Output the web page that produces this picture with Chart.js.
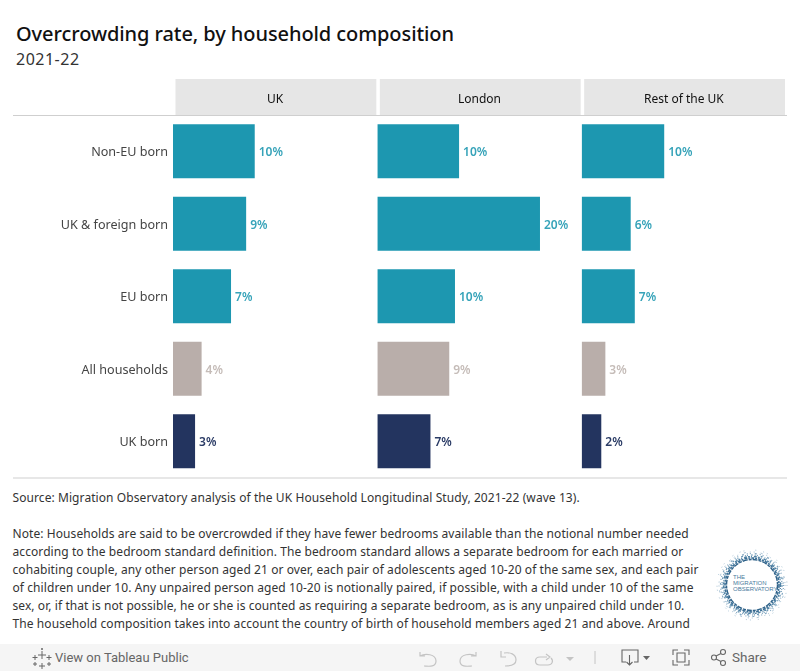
<!DOCTYPE html>
<html>
<head>
<meta charset="utf-8">
<title>Overcrowding rate, by household composition</title>
<script src="https://cdn.jsdelivr.net/npm/chart.js@4"></script>
<style>
    html, body { margin: 0; padding: 0; background: #fff; }
    body { position: relative; width: 800px; height: 671px; overflow: hidden; font-family: "Noto Sans", sans-serif; }
    canvas { position: absolute; left: 0; top: 0; }
    .title { position: absolute; left: 16px; top: 20px; font-size: 20px; line-height: 28px; font-weight: 500; color: #111; white-space: nowrap; letter-spacing: -0.08px; }
    .subtitle { position: absolute; left: 16px; top: 48px; font-size: 16px; line-height: 22px; color: #333; white-space: nowrap; letter-spacing: 0.5px; }
    .notes { position: absolute; left: 12.5px; top: 489px; font-size: 12px; line-height: 18px; color: #333; white-space: pre; letter-spacing: 0.08px; }
    .footer { position: absolute; left: 0; top: 644px; width: 800px; height: 27px; background: #f5f5f5; font-family: Roboto, sans-serif; }
    .footer span { position: absolute; top: 0; line-height: 27px; font-size: 13px; color: #666; white-space: nowrap; }
    .footer svg { position: absolute; left: 0; top: 0; }
    .logo { position: absolute; left: 714px; top: 548px; }
</style>
</head>
<body>
<div class="title">Overcrowding rate, by household composition</div>
<div class="subtitle">2021-22</div>
<canvas id="overcrowdingChart" width="800" height="480"></canvas>
<div class="notes">Source: Migration Observatory analysis of the UK Household Longitudinal Study, 2021-22 (wave 13).

Note: Households are said to be overcrowded if they have fewer bedrooms available than the notional number needed
according to the bedroom standard definition. The bedroom standard allows a separate bedroom for each married or
cohabiting couple, any other person aged 21 or over, each pair of adolescents aged 10-20 of the same sex, and each pair
of children under 10. Any unpaired person aged 10-20 is notionally paired, if possible, with a child under 10 of the same
sex, or, if that is not possible, he or she is counted as requiring a separate bedroom, as is any unpaired child under 10.
The household composition takes into account the country of birth of household members aged 21 and above. Around</div>

<svg class="logo" width="76" height="76" viewBox="0 0 76 76">
    <g fill="none">
        <circle cx="38" cy="37" r="35" stroke="#a9c4d6" stroke-width="1" stroke-dasharray="1 7 1 3 1 11"/>
        <circle cx="38" cy="37" r="33" stroke="#9dbbd0" stroke-width="1" stroke-dasharray="1 3 1 6 2 4"/>
        <circle cx="38" cy="37" r="31.500" stroke="#82a7c1" stroke-width="1.200" stroke-dasharray="1 2 1 4 2 3"/>
        <circle cx="38" cy="37" r="30" stroke="#6b97b5" stroke-width="1.200" stroke-dasharray="2 2 1 1 1 3"/>
        <circle cx="38" cy="37" r="28.500" stroke="#4f82a5" stroke-width="1.400" stroke-dasharray="2 1 1 2 3 1"/>
        <circle cx="38" cy="37" r="27" stroke="#3a6f96" stroke-width="1.600" stroke-dasharray="3 1 2 1"/>
        <circle cx="38" cy="37" r="25.500" stroke="#2f6289" stroke-width="1.400" stroke-dasharray="5 1 3 1"/>
    </g>
    <g font-family="'Liberation Sans Narrow', 'Liberation Sans', sans-serif" font-size="6" fill="#4a7a9c">
        <text x="19" y="31">THE</text>
        <text x="19" y="37">MIGRATION</text>
        <text x="19" y="43">OBSERVATORY</text>
    </g>
</svg>

<div class="footer">
    <svg width="800" height="27" viewBox="0 0 800 27" fill="none">
        <!-- tableau mark -->
        <g stroke="#666" stroke-width="1">
            <path d="M42 7v8M38 11h8M42 19v6M39 22h6M35 11v5M32.5 13.5h5M49 11v5M46.500 13.500h5M35 18v4M33 20h4M49 18v4M47 20h4M42 4v2M41 5h2"/>
        </g>
        <!-- undo, redo, revert, refresh -->
        <g stroke="#c4c4c4" stroke-width="1.2">
            <path d="M420 8v4h5M420 12c5-3 16-2 16 5s-9 5-12 5"/>
            <path d="M476 8v4h-5M476 12c-5-3-16-2-16 5s9 5 12 5"/>
            <path d="M501 7v6h5M504 9c6-1 12 1 12 7s-7 6-11 6"/>
            <path d="M547 13h-7c-6 0-6 8 0 8h8c4 0 6-4 3-7M546 10l4 3-4 3"/>
        </g>
        <path d="M566 13h8l-4 4z" fill="#c4c4c4"/>
        <path d="M595 7v13" stroke="#c4c4c4" stroke-width="1"/>
        <!-- download, fullscreen, share -->
        <g stroke="#666" stroke-width="1.1">
            <path d="M626 18h-4v-12h16v12h-4M629.500 11v10M626.500 18l3 3 3-3"/>
            <path d="M673 11v-5h5M689 11v-5h-5M673 16v5h5M689 16v5h-5M677 9h8v9h-8z"/>
            <circle cx="714" cy="13.500" r="2.500"/><circle cx="723" cy="8" r="2.500"/><circle cx="723" cy="19" r="2.500"/>
            <path d="M716 12l5-2.500M716 15l5 2.500"/>
        </g>
        <path d="M643 12h7l-3.500 4z" fill="#666"/>
    </svg>
    <span style="left:55px">View on Tableau Public</span>
    <span style="left:732px;font-size:13.5px">Share</span>
</div>

<script>
// categories and panels, top to bottom / left to right
const categories = ['Non-EU born', 'UK & foreign born', 'EU born', 'All households', 'UK born'];
const panels = ['UK', 'London', 'Rest of the UK'];

// overcrowding rate in %
const ukRates = [10.0, 8.95, 7.1, 3.5, 2.7];
const londonRates = [10.0, 19.9, 9.5, 8.8, 6.5];
const restRates = [10.1, 6.0, 6.5, 2.9, 2.4];

const barColors = ['#1d97b0', '#1d97b0', '#1d97b0', '#b9aeaa', '#23345f'];
const labelColors = ['#36a3b9', '#36a3b9', '#36a3b9', '#c5bcb8', '#2b3c66'];

const axisIds = ['x1', 'x2', 'x3'];

// grey strips behind panel titles + the two horizontal rules
const panelFrame = {
    id: 'panelFrame',
    beforeDraw(chart) {
        const ctx = chart.ctx;
        const area = chart.chartArea;
        ctx.save();
        ctx.fillStyle = '#e6e6e6';
        axisIds.forEach(id => {
            const s = chart.scales[id];
            ctx.fillRect(s.left + 2.5, 79, s.width - 3.5, area.top - 79);
        });
        ctx.fillStyle = '#cfcfcf';
        ctx.fillRect(13, area.top, 774, 1);
        ctx.fillRect(13, area.bottom, 774, 1);
        ctx.restore();
    }
};

// value labels at the end of each bar
const valueLabels = {
    id: 'valueLabels',
    afterDatasetsDraw(chart) {
        const ctx = chart.ctx;
        ctx.save();
        ctx.font = '600 12px "Noto Sans"';
        ctx.textAlign = 'left';
        ctx.textBaseline = 'middle';
        chart.data.datasets.forEach((ds, i) => {
            chart.getDatasetMeta(i).data.forEach((bar, j) => {
                ctx.fillStyle = labelColors[j];
                ctx.fillText(Math.round(ds.data[j]) + '%', bar.x + 4, bar.y + 1.5);
            });
        });
        ctx.restore();
    }
};

// top axes get laid out heaviest first, so weight keeps UK on the left
function panelAxis(title, weight) {
    return {
        type: 'linear',
        position: 'top',
        stack: 'panels',
        stackWeight: 1,
        weight: weight,
        min: 0,
        max: 25,
        grid: { display: false },
        border: { display: false },
        ticks: { display: false },
        title: {
            display: true,
            text: title,
            color: '#111',
            font: { family: 'Noto Sans', size: 12 },
            padding: { top: 13, bottom: 0 }
        },
        afterFit(scale) { scale.height = 36; }
    };
}

new Chart(document.getElementById('overcrowdingChart'), {
    type: 'bar',
    data: {
        labels: categories,
        datasets: [ukRates, londonRates, restRates].map((rates, i) => ({
            label: panels[i],
            data: rates,
            xAxisID: axisIds[i],
            yAxisID: 'y',
            backgroundColor: barColors,
            grouped: false,
            categoryPercentage: 1,
            barPercentage: 0.745
        }))
    },
    options: {
        indexAxis: 'y',
        responsive: false,
        animation: false,
        layout: { padding: { top: 79, right: 14, bottom: 2.5, left: 0 } },
        plugins: { legend: { display: false }, title: { display: false }, tooltip: { enabled: false } },
        scales: {
            x1: panelAxis(panels[0], 3),
            x2: panelAxis(panels[1], 2),
            x3: panelAxis(panels[2], 1),
            y: {
                grid: { display: false, drawTicks: false },
                border: { display: false },
                ticks: {
                    color: '#444',
                    padding: 5,
                    labelOffset: 1.5,
                    font: { family: 'Noto Sans', size: 12.6 }
                },
                afterFit(scale) {
                    scale.width = 173;
                    scale.paddingTop = 0;
                    scale.paddingBottom = 0;
                }
            }
        }
    },
    plugins: [panelFrame, valueLabels]
});
</script>
</body>
</html>
